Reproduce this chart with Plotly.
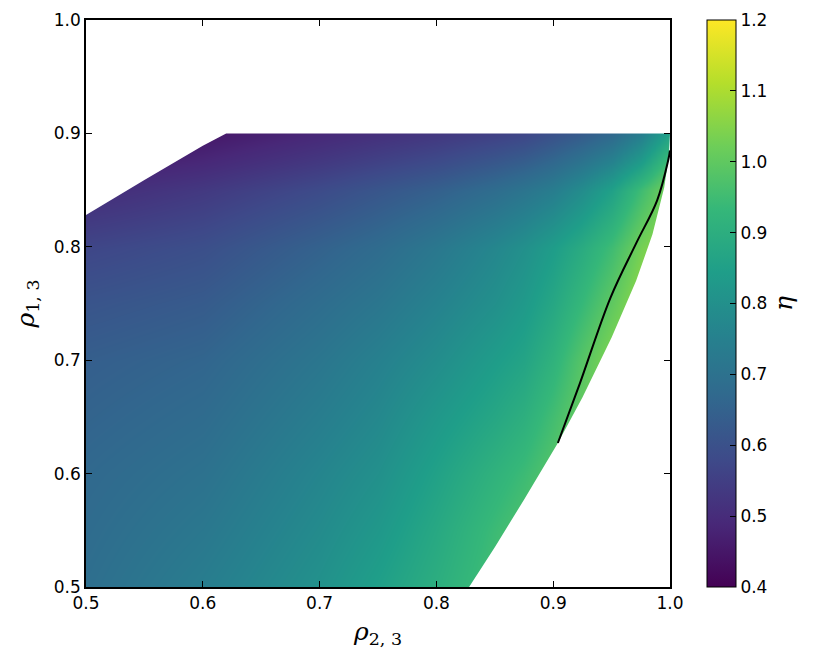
import plotly.graph_objects as go

# grid of eta (rho_2,3 across, rho_1,3 down the rows)
rho23 = [0.5, 0.6, 0.7, 0.75, 0.8, 0.85, 0.875, 0.9, 0.925, 0.95, 0.975, 1.0]
rho13 = [0.5, 0.55, 0.6, 0.65, 0.7, 0.75, 0.8, 0.85, 0.875, 0.9]
eta = [
    [0.69, 0.74, 0.805, 0.85, 0.90, 0.96, 1.0, 1.04, 1.07, 1.10, 1.13, 1.16],
    [0.68, 0.72, 0.785, 0.825, 0.88, 0.945, 0.975, 1.01, 1.05, 1.085, 1.115, 1.145],
    [0.67, 0.70, 0.765, 0.80, 0.855, 0.915, 0.945, 0.985, 1.03, 1.07, 1.10, 1.13],
    [0.655, 0.68, 0.74, 0.775, 0.825, 0.875, 0.905, 0.955, 1.01, 1.06, 1.10, 1.12],
    [0.64, 0.66, 0.715, 0.75, 0.79, 0.84, 0.865, 0.915, 0.985, 1.05, 1.08, 1.10],
    [0.61, 0.63, 0.685, 0.715, 0.755, 0.80, 0.83, 0.875, 0.935, 1.0, 1.07, 1.10],
    [0.57, 0.595, 0.65, 0.68, 0.72, 0.77, 0.80, 0.84, 0.89, 0.95, 1.03, 1.08],
    [0.50, 0.535, 0.585, 0.615, 0.645, 0.685, 0.71, 0.74, 0.79, 0.855, 0.95, 1.04],
    [0.46, 0.49, 0.535, 0.56, 0.585, 0.62, 0.64, 0.67, 0.71, 0.76, 0.84, 0.96],
    [0.42, 0.45, 0.49, 0.51, 0.53, 0.555, 0.57, 0.60, 0.63, 0.67, 0.74, 0.86],
]

# edges of the feasible region
low_x = [0.828, 0.85, 0.875, 0.904, 0.925, 0.95, 0.971, 0.985, 0.995, 0.999, 1.0]
low_y = [0.5, 0.535, 0.577, 0.627, 0.667, 0.72, 0.77, 0.811, 0.852, 0.88, 0.9]
up_x = [0.5, 0.55, 0.6, 0.62, 1.0]
up_y = [0.828, 0.859, 0.889, 0.9, 0.9]

# eta = 1 contour
c_x = [0.904, 0.923, 0.949, 0.971, 0.989, 0.9985, 1.0]
c_y = [0.627, 0.680, 0.755, 0.803, 0.841, 0.8765, 0.885]

tick_font = dict(family="DejaVu Sans", size=17, color="black")
math_font = dict(family="DejaVu Serif", size=25, color="black")

fig = go.Figure()
fig.add_trace(go.Heatmap(
    x=rho23, y=rho13, z=eta, zsmooth="best",
    colorscale="Viridis", zmin=0.4, zmax=1.2,
    colorbar=dict(
        x=(707 - 86) / 584, xanchor="left", y=0, yanchor="bottom",
        len=1.0, thickness=29, xpad=0, ypad=0,
        outlinecolor="black", outlinewidth=1,
        tickvals=[0.4, 0.5, 0.6, 0.7, 0.8, 0.9, 1.0, 1.1, 1.2],
        ticktext=["0.4", "0.5", "0.6", "0.7", "0.8", "0.9", "1.0", "1.1", "1.2"],
        ticks="inside", ticklen=6, tickcolor="black", tickfont=tick_font,
        title=dict(text="<i>η</i>", side="right", font=math_font),
    ),
    hoverinfo="skip",
))

# white masks for the infeasible parts
fig.add_trace(go.Scatter(
    x=low_x + [1.0, 1.0], y=low_y + [0.5, 0.5], fill="toself",
    fillcolor="white", line=dict(width=0), mode="lines", showlegend=False,
))
fig.add_trace(go.Scatter(
    x=up_x + [1.0, 0.5], y=up_y + [1.0, 1.0], fill="toself",
    fillcolor="white", line=dict(width=0), mode="lines", showlegend=False,
))
fig.add_trace(go.Scatter(
    x=c_x, y=c_y, mode="lines", line=dict(color="black", width=2, shape="spline"),
    showlegend=False,
))

axis = dict(
    showgrid=False, zeroline=False, showline=True, linecolor="black",
    linewidth=1.5, mirror="ticks", ticks="inside", ticklen=6,
    tickcolor="black", tickfont=tick_font, dtick=0.1, tickformat=".1f",
    automargin=False,
)
fig.update_xaxes(axis, range=[0.5, 1.0],
                 title=dict(text="<i>ρ</i><sub>2, 3</sub>", font=math_font, standoff=10))
fig.update_yaxes(axis, range=[0.5, 1.0],
                 title=dict(text="<i>ρ</i><sub>1, 3</sub>", font=math_font, standoff=12))

# page body adds 8px, so the figure is 8px smaller
fig.update_layout(
    width=814, height=653,
    margin=dict(l=78, r=152, t=12, b=74, autoexpand=False),
    plot_bgcolor="white", paper_bgcolor="white",
)

fig.write_html("out.html")
